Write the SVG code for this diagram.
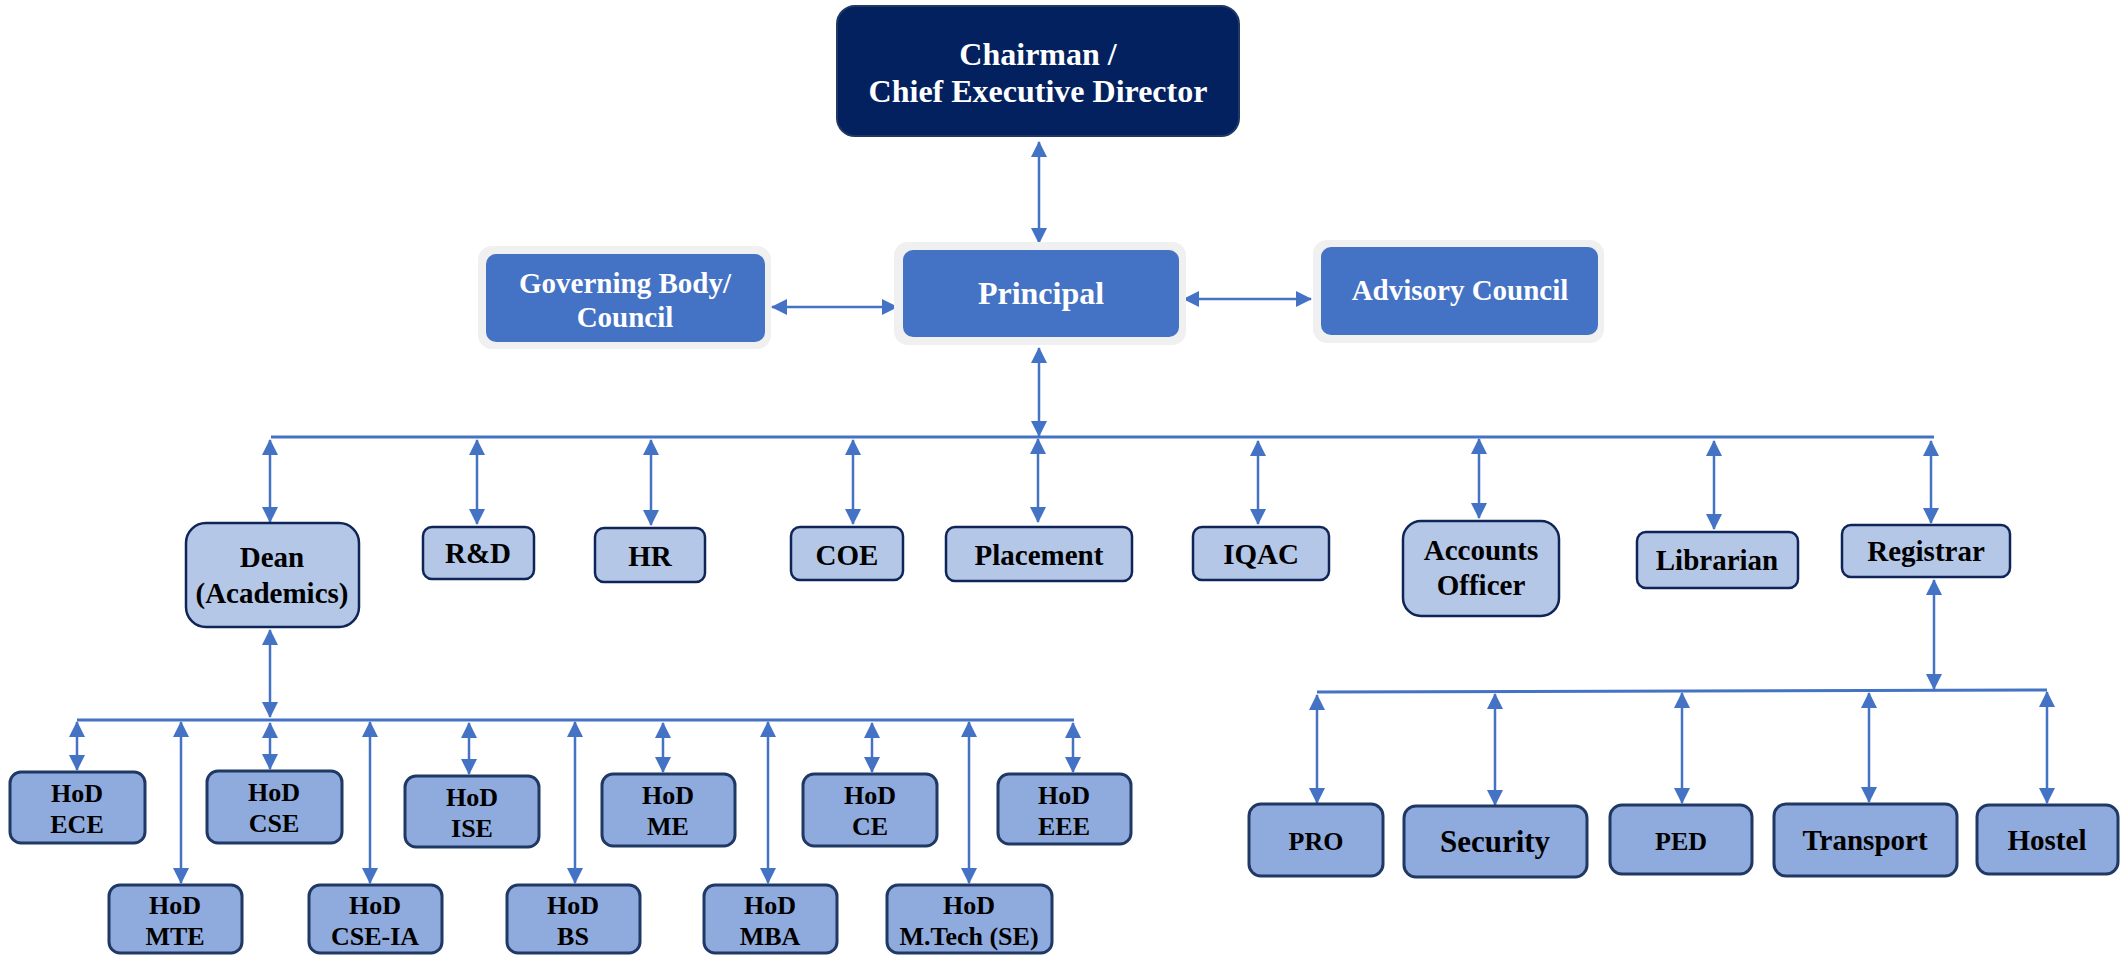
<svg xmlns="http://www.w3.org/2000/svg" width="2125" height="955" viewBox="0 0 2125 955">
<defs>
<marker id="ah" viewBox="0 0 16 16" refX="15" refY="8" markerWidth="16" markerHeight="16" markerUnits="userSpaceOnUse" orient="auto-start-reverse"><path d="M0,0 L16,8 L0,16 Z" fill="#4472C4"/></marker>
<style>
.t{font-family:"Liberation Serif","Times New Roman",serif;font-weight:bold;text-anchor:middle;fill:#000}
.w{fill:#fff}
.top{fill:#03215F;stroke:#1F3864;stroke-width:2}
.glow{fill:#F0F0F0}
.blue{fill:#4472C4}
.l2{fill:#B4C7E7;stroke:#0F2557;stroke-width:2.5}
.l3{fill:#8FAADC;stroke:#1F3864;stroke-width:3}
.c{stroke:#4472C4;stroke-width:2.5;fill:none;marker-start:url(#ah);marker-end:url(#ah)}
.bus{stroke:#4472C4;stroke-width:3;fill:none}
</style>
</defs>
<rect width="2125" height="955" fill="#fff"/>
<g id="connectors">
<line class="c" x1="1039" y1="142" x2="1039" y2="243"/>
<line class="c" x1="772" y1="307" x2="897" y2="307"/>
<line class="c" x1="1184" y1="299" x2="1311" y2="299"/>
<line class="c" x1="1039" y1="348" x2="1039" y2="436"/>
<line class="bus" x1="271" y1="437" x2="1934" y2="437"/>
<line class="c" x1="270" y1="440" x2="270" y2="522"/>
<line class="c" x1="477" y1="440" x2="477" y2="524"/>
<line class="c" x1="651" y1="440" x2="651" y2="525"/>
<line class="c" x1="853" y1="440" x2="853" y2="524"/>
<line class="c" x1="1038" y1="439" x2="1038" y2="522"/>
<line class="c" x1="1258" y1="441" x2="1258" y2="524"/>
<line class="c" x1="1479" y1="439" x2="1479" y2="518"/>
<line class="c" x1="1714" y1="441" x2="1714" y2="529"/>
<line class="c" x1="1931" y1="441" x2="1931" y2="523"/>
<line class="c" x1="1934" y1="580" x2="1934" y2="689"/>
<line class="bus" x1="1317" y1="692" x2="2047" y2="690"/>
<line class="c" x1="1317" y1="695" x2="1317" y2="803"/>
<line class="c" x1="1495" y1="694" x2="1495" y2="805"/>
<line class="c" x1="1682" y1="693" x2="1682" y2="803"/>
<line class="c" x1="1869" y1="693" x2="1869" y2="802"/>
<line class="c" x1="2047" y1="692" x2="2047" y2="803"/>
<line class="c" x1="270" y1="630" x2="270" y2="717"/>
<line class="bus" x1="77" y1="720" x2="1074" y2="720"/>
<line class="c" x1="77" y1="722" x2="77" y2="770"/>
<line class="c" x1="270" y1="723" x2="270" y2="769"/>
<line class="c" x1="469" y1="723" x2="469" y2="774"/>
<line class="c" x1="663" y1="723" x2="663" y2="772"/>
<line class="c" x1="872" y1="723" x2="872" y2="772"/>
<line class="c" x1="1073" y1="723" x2="1073" y2="772"/>
<line class="c" x1="181" y1="722" x2="181" y2="883"/>
<line class="c" x1="370" y1="722" x2="370" y2="883"/>
<line class="c" x1="575" y1="722" x2="575" y2="883"/>
<line class="c" x1="768" y1="722" x2="768" y2="883"/>
<line class="c" x1="969" y1="722" x2="969" y2="883"/>
</g>
<g id="chairman"><rect class="top" x="837" y="6" width="402" height="130" rx="18"/><text class="t w" x="1038" y="65" font-size="32">Chairman /</text><text class="t w" x="1038" y="102" font-size="32">Chief Executive Director</text></g>
<g id="governing"><rect class="glow" x="478" y="246" width="293" height="103" rx="14"/><rect class="blue" x="486" y="254" width="279" height="88" rx="10"/><text class="t w" x="625" y="293" font-size="29">Governing Body/</text><text class="t w" x="625" y="327" font-size="29">Council</text></g>
<g id="principal"><rect class="glow" x="894" y="242" width="292" height="103" rx="14"/><rect class="blue" x="903" y="250" width="276" height="87" rx="10"/><text class="t w" x="1041" y="304" font-size="32">Principal</text></g>
<g id="advisory"><rect class="glow" x="1313" y="240" width="291" height="103" rx="14"/><rect class="blue" x="1321" y="247" width="277" height="88" rx="10"/><text class="t w" x="1460" y="300" font-size="29">Advisory Council</text></g>
<g id="dean"><rect class="l2" x="186" y="523" width="173" height="104" rx="20"/><text class="t" x="272" y="567" font-size="29">Dean</text><text class="t" x="272" y="603" font-size="29">(Academics)</text></g>
<g id="rnd"><rect class="l2" x="423" y="527" width="111" height="52" rx="9"/><text class="t" x="478" y="563" font-size="29">R&amp;D</text></g>
<g id="hr"><rect class="l2" x="595" y="528" width="110" height="54" rx="9"/><text class="t" x="650" y="566" font-size="29">HR</text></g>
<g id="coe"><rect class="l2" x="791" y="527" width="112" height="53" rx="9"/><text class="t" x="847" y="565" font-size="29">COE</text></g>
<g id="placement"><rect class="l2" x="946" y="527" width="186" height="54" rx="9"/><text class="t" x="1039" y="565" font-size="29">Placement</text></g>
<g id="iqac"><rect class="l2" x="1193" y="527" width="136" height="53" rx="9"/><text class="t" x="1261" y="564" font-size="29">IQAC</text></g>
<g id="accounts"><rect class="l2" x="1403" y="521" width="156" height="95" rx="18"/><text class="t" x="1481" y="560" font-size="29">Accounts</text><text class="t" x="1481" y="595" font-size="29">Officer</text></g>
<g id="librarian"><rect class="l2" x="1637" y="532" width="161" height="56" rx="9"/><text class="t" x="1717" y="570" font-size="29">Librarian</text></g>
<g id="registrar"><rect class="l2" x="1842" y="525" width="168" height="52" rx="9"/><text class="t" x="1926" y="561" font-size="29">Registrar</text></g>
<g id="pro"><rect class="l3" x="1249" y="804" width="134" height="72" rx="12"/><text class="t" x="1316" y="850" font-size="26">PRO</text></g>
<g id="security"><rect class="l3" x="1404" y="806" width="183" height="71" rx="12"/><text class="t" x="1495" y="852" font-size="31">Security</text></g>
<g id="ped"><rect class="l3" x="1610" y="805" width="142" height="69" rx="12"/><text class="t" x="1681" y="850" font-size="26">PED</text></g>
<g id="transport"><rect class="l3" x="1774" y="804" width="183" height="72" rx="12"/><text class="t" x="1865" y="850" font-size="29">Transport</text></g>
<g id="hostel"><rect class="l3" x="1977" y="805" width="141" height="69" rx="12"/><text class="t" x="2047" y="850" font-size="29">Hostel</text></g>
<g id="hod-ece"><rect class="l3" x="10" y="772" width="135" height="71" rx="11"/><text class="t" x="77" y="802" font-size="26">HoD</text><text class="t" x="77" y="833" font-size="26">ECE</text></g>
<g id="hod-cse"><rect class="l3" x="207" y="771" width="135" height="72" rx="11"/><text class="t" x="274" y="801" font-size="26">HoD</text><text class="t" x="274" y="832" font-size="26">CSE</text></g>
<g id="hod-ise"><rect class="l3" x="405" y="776" width="134" height="71" rx="11"/><text class="t" x="472" y="806" font-size="26">HoD</text><text class="t" x="472" y="837" font-size="26">ISE</text></g>
<g id="hod-me"><rect class="l3" x="602" y="774" width="133" height="72" rx="11"/><text class="t" x="668" y="804" font-size="26">HoD</text><text class="t" x="668" y="835" font-size="26">ME</text></g>
<g id="hod-ce"><rect class="l3" x="803" y="774" width="134" height="72" rx="11"/><text class="t" x="870" y="804" font-size="26">HoD</text><text class="t" x="870" y="835" font-size="26">CE</text></g>
<g id="hod-eee"><rect class="l3" x="998" y="774" width="133" height="70" rx="11"/><text class="t" x="1064" y="804" font-size="26">HoD</text><text class="t" x="1064" y="835" font-size="26">EEE</text></g>
<g id="hod-mte"><rect class="l3" x="109" y="885" width="133" height="68" rx="11"/><text class="t" x="175" y="914" font-size="26">HoD</text><text class="t" x="175" y="945" font-size="26">MTE</text></g>
<g id="hod-cseia"><rect class="l3" x="309" y="885" width="133" height="68" rx="11"/><text class="t" x="375" y="914" font-size="26">HoD</text><text class="t" x="375" y="945" font-size="26">CSE-IA</text></g>
<g id="hod-bs"><rect class="l3" x="507" y="885" width="133" height="68" rx="11"/><text class="t" x="573" y="914" font-size="26">HoD</text><text class="t" x="573" y="945" font-size="26">BS</text></g>
<g id="hod-mba"><rect class="l3" x="704" y="885" width="133" height="68" rx="11"/><text class="t" x="770" y="914" font-size="26">HoD</text><text class="t" x="770" y="945" font-size="26">MBA</text></g>
<g id="hod-mtech"><rect class="l3" x="887" y="885" width="165" height="68" rx="11"/><text class="t" x="969" y="914" font-size="26">HoD</text><text class="t" x="969" y="945" font-size="26">M.Tech (SE)</text></g>
</svg>
